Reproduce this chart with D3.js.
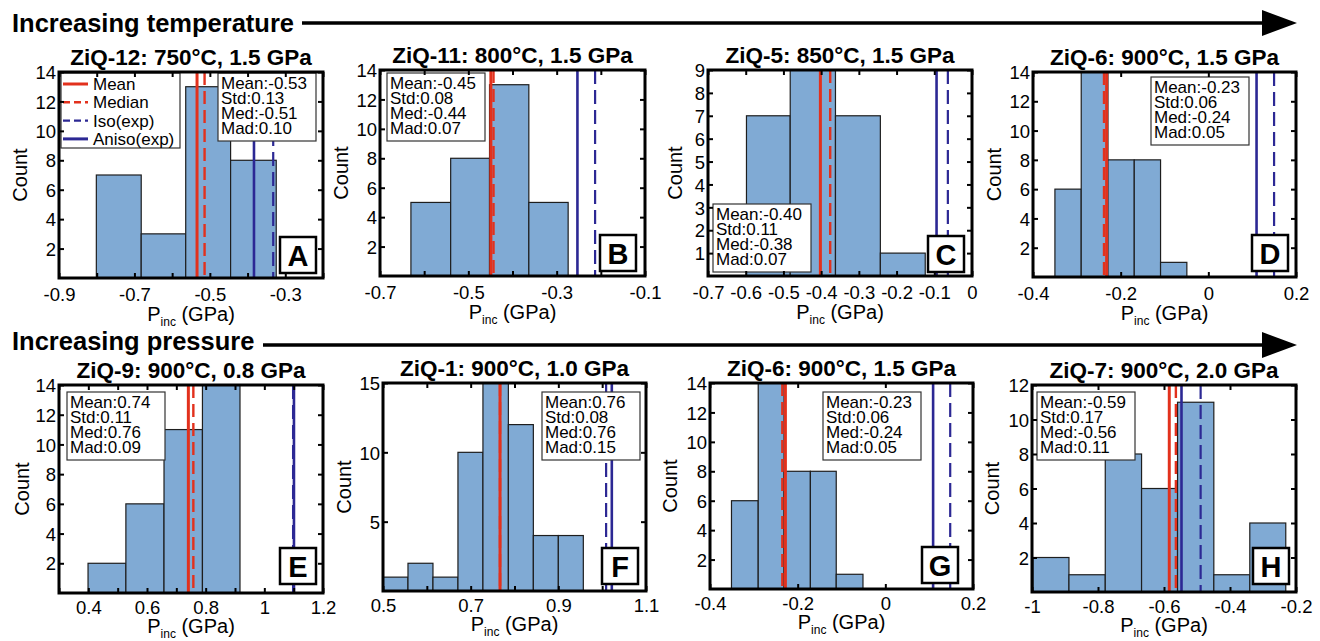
<!DOCTYPE html>
<html><head><meta charset="utf-8">
<script src="https://cdn.jsdelivr.net/npm/d3@7"></script>
<style>
body{margin:0;background:#fff}
svg{display:block}
text{font-family:"Liberation Sans",Arial,Helvetica,sans-serif;fill:#000}
</style>
</head><body>
<svg id="chart" width="1320" height="641"></svg>
<script>
// ---------------- DATA ----------------
const panelLetters = ["A","B","C","D","E","F","G","H"];
const panelTitles = ["ZiQ-12: 750°C, 1.5 GPa","ZiQ-11: 800°C, 1.5 GPa","ZiQ-5: 850°C, 1.5 GPa","ZiQ-6: 900°C, 1.5 GPa",
                     "ZiQ-9: 900°C, 0.8 GPa","ZiQ-1: 900°C, 1.0 GPa","ZiQ-6: 900°C, 1.5 GPa","ZiQ-7: 900°C, 2.0 GPa"];
const rowHeadings = ["Increasing temperature","Increasing pressure"];

// histogram bin edges (GPa) and counts
const edgesA = [-0.801,-0.682,-0.564,-0.445,-0.324];       const countsA = [7,3,13,8];
const edgesB = [-0.630,-0.540,-0.452,-0.363,-0.274];       const countsB = [5,8,13,5];
const edgesC = [-0.598,-0.482,-0.362,-0.243,-0.124];       const countsC = [7,9,7,1];
const edgesD = [-0.350,-0.290,-0.229,-0.169,-0.109,-0.049]; const countsD = [6,14,8,8,1];
const edgesE = [0.399,0.528,0.658,0.789,0.917];            const countsE = [2,6,11,14];
const edgesF = [0.500,0.557,0.614,0.671,0.728,0.786,0.843,0.900,0.957]; const countsF = [1,2,1,10,15,12,4,4];
const edgesG = [-0.351,-0.290,-0.231,-0.171,-0.112,-0.051]; const countsG = [6,14,8,8,1];
const edgesH = [-0.997,-0.888,-0.778,-0.668,-0.559,-0.449,-0.340,-0.231]; const countsH = [2,1,8,6,11,1,4];

// vertical reference lines (GPa)
const meanP   = [-0.534,-0.449,-0.402,-0.232, 0.741, 0.767,-0.228,-0.584];
const medianP = [-0.514,-0.443,-0.376,-0.238, 0.758, 0.767,-0.235,-0.564];
const isoP    = [-0.332,-0.213,-0.064, 0.150, 1.098, 1.009, 0.148,-0.489];
const anisoP  = [-0.383,-0.253,-0.094, 0.110, 1.101, 1.022, 0.109,-0.547];

// stats text
const statMean = ["-0.53","-0.45","-0.40","-0.23","0.74","0.76","-0.23","-0.59"];
const statStd  = ["0.13","0.08","0.11","0.06","0.11","0.08","0.06","0.17"];
const statMed  = ["-0.51","-0.44","-0.38","-0.24","0.76","0.76","-0.24","-0.56"];
const statMad  = ["0.10","0.07","0.07","0.05","0.09","0.15","0.05","0.11"];

// axes
const xDomainA = [-0.9,-0.2], xDomainB = [-0.7,-0.1], xDomainC = [-0.7,0], xDomainD = [-0.4,0.2];
const xDomainE = [0.3,1.2],  xDomainF = [0.5,1.1],  xDomainG = [-0.4,0.2], xDomainH = [-1,-0.2];
const xTicksA = [-0.9,-0.8,-0.7,-0.6,-0.5,-0.4,-0.3,-0.2]; const xLabelsA = ["-0.9","","-0.7","","-0.5","","-0.3",""];
const xTicksB = [-0.7,-0.6,-0.5,-0.4,-0.3,-0.2,-0.1];      const xLabelsB = ["-0.7","","-0.5","","-0.3","","-0.1"];
const xTicksC = [-0.7,-0.6,-0.5,-0.4,-0.3,-0.2,-0.1,0];    const xLabelsC = ["-0.7","-0.6","-0.5","-0.4","-0.3","-0.2","-0.1","0"];
const xTicksD = [-0.4,-0.2,0,0.2];                         const xLabelsD = ["-0.4","-0.2","0","0.2"];
const xTicksE = [0.3,0.4,0.5,0.6,0.7,0.8,0.9,1.0,1.1,1.2]; const xLabelsE = ["","0.4","","0.6","","0.8","","1","","1.2"];
const xTicksF = [0.5,0.6,0.7,0.8,0.9,1.0,1.1];             const xLabelsF = ["0.5","","0.7","","0.9","","1.1"];
const xTicksG = [-0.4,-0.2,0,0.2];                         const xLabelsG = ["-0.4","-0.2","0","0.2"];
const xTicksH = [-1,-0.8,-0.6,-0.4,-0.2];                  const xLabelsH = ["-1","-0.8","-0.6","-0.4","-0.2"];
const yMaxes = [14,14,9,14,14,15,14,12];
const yTicks14 = [2,4,6,8,10,12,14], yTicks9 = [1,2,3,4,5,6,7,8,9], yTicks15 = [5,10,15], yTicks12 = [2,4,6,8,10,12];

const legendLabels = ["Mean","Median","Iso(exp)","Aniso(exp)"];

// ---------------- LAYOUT / STYLE ----------------
const allEdges  = [edgesA,edgesB,edgesC,edgesD,edgesE,edgesF,edgesG,edgesH];
const allCounts = [countsA,countsB,countsC,countsD,countsE,countsF,countsG,countsH];
const allXDom   = [xDomainA,xDomainB,xDomainC,xDomainD,xDomainE,xDomainF,xDomainG,xDomainH];
const allXTicks = [xTicksA,xTicksB,xTicksC,xTicksD,xTicksE,xTicksF,xTicksG,xTicksH];
const allXLabels= [xLabelsA,xLabelsB,xLabelsC,xLabelsD,xLabelsE,xLabelsF,xLabelsG,xLabelsH];
const allYTicks = [yTicks14,yTicks14,yTicks9,yTicks14,yTicks14,yTicks15,yTicks14,yTicks12];

const frames = [
  {x0:59,  x1:323,  y0:72,  y1:278, row:0},
  {x0:380, x1:645,  y0:70,  y1:276, row:0},
  {x0:708, x1:972,  y0:70,  y1:276, row:0},
  {x0:1033,x1:1296, y0:72,  y1:277, row:0},
  {x0:59,  x1:323,  y0:385, y1:593, row:1},
  {x0:383, x1:646,  y0:383, y1:591, row:1},
  {x0:710, x1:973,  y0:383, y1:589, row:1},
  {x0:1032,x1:1296, y0:385, y1:592, row:1}
];
const statBoxes = [[218,73],[387,73],[713,204],[1151,77],[67,392],[542,392],[823,392],[1037,392]];
const letterBoxes = [[280,237],[600,235],[928,236],[1252,235],[280,548],[602,548],[922,547],[1253,548]];
const countOffsets = [39,39,33,39,37,39,40,40];

const RED = "#e2311d", BLUE = "#2c2894", BAR = "#80aad4";
const TICKFS = 18.5;

const svg = d3.select("#chart");

function drawPanel(i){
  const F = frames[i];
  const x = d3.scaleLinear().domain(allXDom[i]).range([F.x0, F.x1]);
  const y = d3.scaleLinear().domain([0, yMaxes[i]]).range([F.y1, F.y0]);
  const g = svg.append("g");
  const edges = allEdges[i];
  const bins = allCounts[i].map((c,k)=>({a:edges[k], b:edges[k+1], c}));

  g.selectAll("rect.bar").data(bins).join("rect").attr("class","bar")
    .attr("x", d=>x(d.a)).attr("y", d=>y(d.c))
    .attr("width", d=>x(d.b)-x(d.a)).attr("height", d=>y(0)-y(d.c))
    .attr("fill", BAR).attr("stroke","#1e1e1e").attr("stroke-width",1.2);

  const vlines = [
    {v:medianP[i], c:RED,  dash:"13,6", w:2.4},
    {v:meanP[i],   c:RED,  dash:null,   w:3},
    {v:anisoP[i],  c:BLUE, dash:null,   w:2.6},
    {v:isoP[i],    c:BLUE, dash:"14,6", w:2.2}
  ];
  g.selectAll("line.vl").data(vlines).join("line").attr("class","vl")
    .attr("x1", d=>x(d.v)).attr("x2", d=>x(d.v))
    .attr("y1", F.y0).attr("y2", F.y1)
    .attr("stroke", d=>d.c).attr("stroke-width", d=>d.w)
    .attr("stroke-dasharray", d=>d.dash);

  // stats box
  const [sx, sy] = statBoxes[i];
  g.append("rect").attr("x",sx).attr("y",sy).attr("width",98).attr("height",68)
    .attr("fill","#fff").attr("stroke","#333").attr("stroke-width",1.2);
  const lines = ["Mean:"+statMean[i],"Std:"+statStd[i],"Med:"+statMed[i],"Mad:"+statMad[i]];
  g.selectAll("text.st").data(lines).join("text").attr("class","st")
    .attr("x", sx+3).attr("y",(d,k)=>sy+16+k*15).attr("font-size",17).text(d=>d);

  // legend (panel A only)
  if(i===0){
    g.append("rect").attr("x",61).attr("y",73).attr("width",119).attr("height",75)
      .attr("fill","#fff").attr("stroke","#333").attr("stroke-width",1.2);
    const leg = [{c:RED,dash:null,w:3},{c:RED,dash:"7,4",w:2.4},{c:BLUE,dash:"7,4",w:2.4},{c:BLUE,dash:null,w:3}];
    leg.forEach((s,k)=>{
      const cy = 84 + k*18.3;
      g.append("line").attr("x1",63).attr("x2",88).attr("y1",cy).attr("y2",cy)
        .attr("stroke",s.c).attr("stroke-width",s.w).attr("stroke-dasharray",s.dash);
      g.append("text").attr("x",93).attr("y",cy+6).attr("font-size",17).text(legendLabels[k]);
    });
  }

  // letter box
  const [lx, ly] = letterBoxes[i];
  g.append("rect").attr("x",lx).attr("y",ly).attr("width",36).attr("height",36)
    .attr("fill","#fff").attr("stroke","#000").attr("stroke-width",2.5);
  g.append("text").attr("x",lx+18).attr("y",ly+29).attr("text-anchor","middle")
    .attr("font-size",29).attr("font-weight","bold").text(panelLetters[i]);

  // axes (ticks inside on all four sides)
  const labs = allXLabels[i];
  const bottomOff = F.row===0 ? 23 : 21;
  const ax = g.append("g").attr("transform",`translate(0,${F.y1})`)
    .call(d3.axisBottom(x).tickValues(allXTicks[i]).tickSize(-5).tickFormat((d,k)=>labs[k]));
  ax.selectAll("text").attr("y",bottomOff).attr("dy",0).attr("font-size",TICKFS);
  g.append("g").attr("transform",`translate(0,${F.y0})`)
    .call(d3.axisTop(x).tickValues(allXTicks[i]).tickSize(-5).tickFormat(""));
  const ay = g.append("g").attr("transform",`translate(${F.x0},0)`)
    .call(d3.axisLeft(y).tickValues(allYTicks[i]).tickSize(-5).tickFormat(d3.format("d")));
  ay.selectAll("text").attr("x",-3).attr("dy","0.36em").attr("font-size",TICKFS);
  g.append("g").attr("transform",`translate(${F.x1},0)`)
    .call(d3.axisRight(y).tickValues(allYTicks[i]).tickSize(-5).tickFormat(""));
  g.selectAll(".domain").remove();
  g.selectAll(".tick line").attr("stroke","#000").attr("stroke-width",2);
  g.selectAll(".tick text").attr("fill","#000").style("font-family",'"Liberation Sans",Arial,sans-serif');

  // frame
  g.append("rect").attr("x",F.x0).attr("y",F.y0).attr("width",F.x1-F.x0).attr("height",F.y1-F.y0)
    .attr("fill","none").attr("stroke","#000").attr("stroke-width",3);

  // title
  g.append("text").attr("x",(F.x0+F.x1)/2).attr("y",F.y0-7).attr("text-anchor","middle")
    .attr("font-size",22.5).attr("font-weight","bold").text(panelTitles[i]);

  // y label
  const cyl = (F.y0+F.y1)/2, cxl = F.x0-countOffsets[i];
  g.append("text").attr("transform",`translate(${cxl},${cyl}) rotate(-90)`)
    .attr("text-anchor","middle").attr("dy","0.35em").attr("font-size",20).text("Count");

  // x label
  const xl = g.append("text").attr("x",(F.x0+F.x1)/2).attr("y",F.y1+(F.row===0?43:40))
    .attr("text-anchor","middle").attr("font-size",20);
  xl.append("tspan").text("P");
  xl.append("tspan").attr("font-size",12).attr("dy",5).text("inc");
  xl.append("tspan").attr("dy",-5).text(" (GPa)");
}

for(let i=0;i<8;i++) drawPanel(i);

// row headings with arrows
const headY = [{ty:32, ly:23, lx0:302}, {ty:350, ly:345, lx0:263}];
headY.forEach((h,k)=>{
  svg.append("text").attr("x",12).attr("y",h.ty).attr("font-size",25.5).attr("font-weight","bold").text(rowHeadings[k]);
  svg.append("line").attr("x1",h.lx0).attr("x2",1268).attr("y1",h.ly).attr("y2",h.ly)
    .attr("stroke","#000").attr("stroke-width",3.5);
  svg.append("path").attr("d",`M1262,${h.ly-13} L1297,${h.ly} L1262,${h.ly+13} Z`).attr("fill","#000");
});
</script>
</body></html>
